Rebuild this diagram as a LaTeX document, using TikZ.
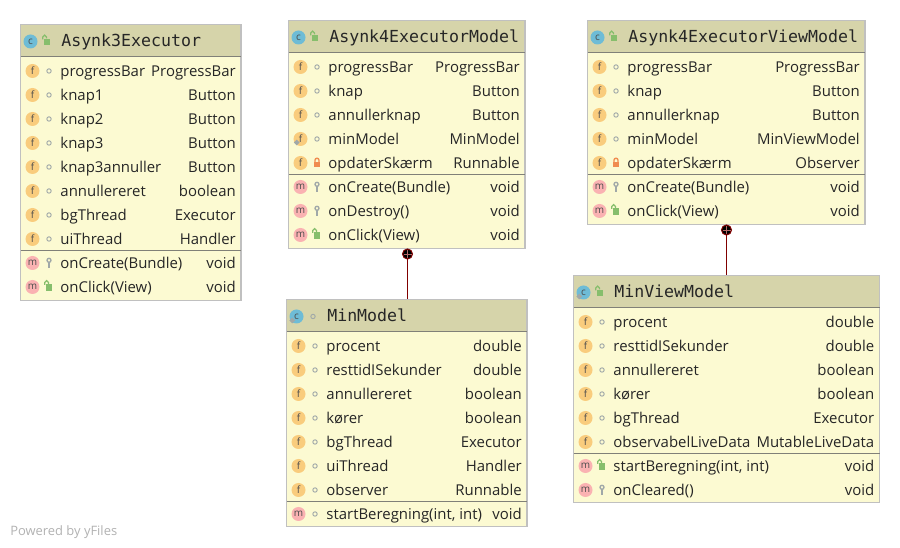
\documentclass[tikz,border=0pt]{standalone}
\usepackage{fontspec}
\setmainfont{Open Sans}
\newfontfamily\titlefont{DejaVu Sans Mono}
\usetikzlibrary{positioning}
\definecolor{headbg}{RGB}{214, 212, 170}
\definecolor{bodybg}{RGB}{252, 250, 210}
\definecolor{edge}{RGB}{192, 192, 192}
\definecolor{sep}{RGB}{128, 128, 120}
\definecolor{fcirc}{RGB}{249, 204, 125}
\definecolor{mcirc}{RGB}{250, 178, 178}
\definecolor{ccirc}{RGB}{110, 188, 214}
\definecolor{pubgreen}{RGB}{134, 190, 108}
\definecolor{privred}{RGB}{240, 140, 80}
\definecolor{keygray}{RGB}{160, 168, 168}
\definecolor{linkred}{RGB}{128, 0, 0}
\tikzset{
  classbox/.style={draw=edge,line width=1pt,fill=bodybg,inner sep=0pt,outer sep=0pt,anchor=north west},
  headbox/.style={fill=headbg,draw=edge,line width=1pt,inner sep=0pt,outer sep=0pt,anchor=north west},
  badge/.style={circle,inner sep=0pt,minimum size=10.5pt,font=\fontsize{7.5}{8}\selectfont,text=black!70},
  rowtext/.style={inner sep=0pt,font=\fontsize{11.2}{12}\selectfont,text=black!85},
  titletext/.style={inner sep=0pt,anchor=base west,font=\titlefont\fontsize{12.45}{13}\selectfont,text=black!85},
  septhick/.style={sep,line width=0.9pt},
  linkdot/.style={circle,fill=black,draw=linkred,line width=0.75pt,minimum size=7.5pt,inner sep=0pt},
}
% visibility marks, #1 = x, #2 = y
\newcommand{\vispkg}[2]{\draw[keygray,line width=0.7pt] (#1,#2) circle (2.2);}
\newcommand{\vispub}[2]{\fill[pubgreen] (#1-2.8,#2-2.5) rectangle (#1+3.2,#2+4);
  \draw[pubgreen,line width=1pt] (#1-4.3,#2-2) -- (#1-4.3,#2-4.5) arc (180:360:1.9) -- (#1-0.5,#2-3);}
\newcommand{\vispriv}[2]{\fill[privred] (#1-3,#2-1.2) rectangle (#1+3,#2+4);
  \draw[privred,line width=1pt] (#1-2,#2-1) -- (#1-2,#2-2.8) arc (180:360:2) -- (#1+2,#2-1);}
\newcommand{\viskey}[2]{\draw[keygray,line width=1pt] (#1,#2-2.7) circle (2);
  \draw[keygray,line width=1.4pt] (#1,#2-0.7) -- (#1,#2+5);}
\newcommand{\staticmark}[2]{\fill[keygray,rotate around={45:(#1,#2)}] (#1-2,#2-2) rectangle (#1+2,#2+2);}
% one row: box left, box right, y, letter, colour, mark, name, type
\newcommand{\classrow}[8]{
  \node[badge,fill=#5] (b#1r#3) at (#1+12,#3) {#4};
  \csname vis#6\endcsname{#1+28.5}{#3}
  \node[rowtext,anchor=base west] (n#1r#3) at (#1+39.7,#3+6) {#7};
  \node[rowtext,anchor=base east] (t#1r#3) at (#2-5,#3+6) {#8};
}
\newcommand{\frow}[6]{\classrow{#1}{#2}{#3}{f}{fcirc}{#4}{#5}{#6}}
\newcommand{\mrow}[6]{\classrow{#1}{#2}{#3}{m}{mcirc}{#4}{#5}{#6}}
% class frame: name, left, right, top, bottom, mark, title
\newcommand{\classhead}[7]{
  \node[classbox,minimum width={(#3-#2)*0.75pt},minimum height={(#5-#4)*0.75pt}] (#1) at (#2,#4) {};
  \node[headbox,minimum width={(#3-#2)*0.75pt},minimum height={32*0.75pt}] (#1head) at (#2,#4) {};
  \draw[septhick] (#2,#4+32) -- (#3,#4+32);
  \node[badge,fill=ccirc] (#1c) at (#2+10,#4+17) {c};
  \csname vis#6\endcsname{#2+26.5}{#4+17}
  \node[titletext] (#1title) at (#2+40.5,#4+22) {#7};
}

\begin{document}
\begin{tikzpicture}[x=0.75pt,y=0.75pt,yscale=-1,xscale=1]
\useasboundingbox (0,0) rectangle (900,548);
\fill[white] (0,0) rectangle (900,548);

% Asynk3Executor
\classhead{asynkthree}{20.5}{241}{24.5}{300.5}{pub}{Asynk3Executor}
\frow{20.5}{241}{71}{pkg}{progressBar}{ProgressBar}
\frow{20.5}{241}{95}{pkg}{knap1}{Button}
\frow{20.5}{241}{119}{pkg}{knap2}{Button}
\frow{20.5}{241}{143}{pkg}{knap3}{Button}
\frow{20.5}{241}{167}{pkg}{knap3annuller}{Button}
\frow{20.5}{241}{191}{pkg}{annullereret}{boolean}
\frow{20.5}{241}{215}{pkg}{bgThread}{Executor}
\frow{20.5}{241}{239}{pkg}{uiThread}{Handler}
\draw[septhick] (20.5,250.7) -- (241,250.7);
\mrow{20.5}{241}{263}{key}{onCreate(Bundle)}{void}
\mrow{20.5}{241}{287}{pub}{onClick(View)}{void}

% Asynk4ExecutorModel
\classhead{asynkmodel}{288.5}{525}{20.5}{248.5}{pub}{Asynk4ExecutorModel}
\frow{288.5}{525}{67}{pkg}{progressBar}{ProgressBar}
\frow{288.5}{525}{91}{pkg}{knap}{Button}
\frow{288.5}{525}{115}{pkg}{annullerknap}{Button}
\frow{288.5}{525}{139}{pkg}{minModel}{MinModel}
\staticmark{296.7}{142.5}
\frow{288.5}{525}{163}{priv}{opdaterSkærm}{Runnable}
\draw[septhick] (288.5,174.7) -- (525,174.7);
\mrow{288.5}{525}{187}{key}{onCreate(Bundle)}{void}
\mrow{288.5}{525}{211}{key}{onDestroy()}{void}
\mrow{288.5}{525}{235}{pub}{onClick(View)}{void}

% Asynk4ExecutorViewModel
\classhead{asynkview}{587.5}{865}{20.5}{224.5}{pub}{Asynk4ExecutorViewModel}
\frow{587.5}{865}{67}{pkg}{progressBar}{ProgressBar}
\frow{587.5}{865}{91}{pkg}{knap}{Button}
\frow{587.5}{865}{115}{pkg}{annullerknap}{Button}
\frow{587.5}{865}{139}{pkg}{minModel}{MinViewModel}
\frow{587.5}{865}{163}{priv}{opdaterSkærm}{Observer}
\draw[septhick] (587.5,174.7) -- (865,174.7);
\mrow{587.5}{865}{187}{key}{onCreate(Bundle)}{void}
\mrow{587.5}{865}{211}{pub}{onClick(View)}{void}

% MinModel
\classhead{minmodel}{286.5}{527}{299.5}{526.5}{pkg}{MinModel}
\staticmark{292.3}{320.5}
\frow{286.5}{527}{346}{pkg}{procent}{double}
\frow{286.5}{527}{370}{pkg}{resttidISekunder}{double}
\frow{286.5}{527}{394}{pkg}{annullereret}{boolean}
\frow{286.5}{527}{418}{pkg}{kører}{boolean}
\frow{286.5}{527}{442}{pkg}{bgThread}{Executor}
\frow{286.5}{527}{466}{pkg}{uiThread}{Handler}
\frow{286.5}{527}{490}{pkg}{observer}{Runnable}
\draw[septhick] (286.5,501.7) -- (527,501.7);
\mrow{286.5}{527}{514}{pkg}{startBeregning(int, int)}{void}

% MinViewModel
\classhead{minview}{573.5}{879.5}{275.5}{502.5}{pub}{MinViewModel}
\staticmark{579.3}{296.5}
\frow{573.5}{879.5}{322}{pkg}{procent}{double}
\frow{573.5}{879.5}{346}{pkg}{resttidISekunder}{double}
\frow{573.5}{879.5}{370}{pkg}{annullereret}{boolean}
\frow{573.5}{879.5}{394}{pkg}{kører}{boolean}
\frow{573.5}{879.5}{418}{pkg}{bgThread}{Executor}
\frow{573.5}{879.5}{442}{pkg}{observabelLiveData}{MutableLiveData}
\draw[septhick] (573.5,453.7) -- (879.5,453.7);
\mrow{573.5}{879.5}{466}{pub}{startBeregning(int, int)}{void}
\mrow{573.5}{879.5}{490}{key}{onCleared()}{void}

% composition links
\node[linkdot] (dotmodel) at (407.5,254) {};
\node[linkdot] (dotview) at (726.5,230) {};
\draw[linkred,line width=0.9pt] (dotmodel) -- (dotmodel |- minmodel.north);
\draw[linkred,line width=0.9pt] (dotview) -- (dotview |- minview.north);
\draw[linkred!60,line width=0.6pt] (403.5,254) -- (411.5,254) (407.5,250) -- (407.5,258);
\draw[linkred!60,line width=0.6pt] (722.5,230) -- (730.5,230) (726.5,226) -- (726.5,234);

\node[anchor=base west,inner sep=0pt,text=black!30,font=\fontsize{9.7}{10}\selectfont] (powered) at (10,536) {Powered by yFiles};
\end{tikzpicture}
\end{document}
